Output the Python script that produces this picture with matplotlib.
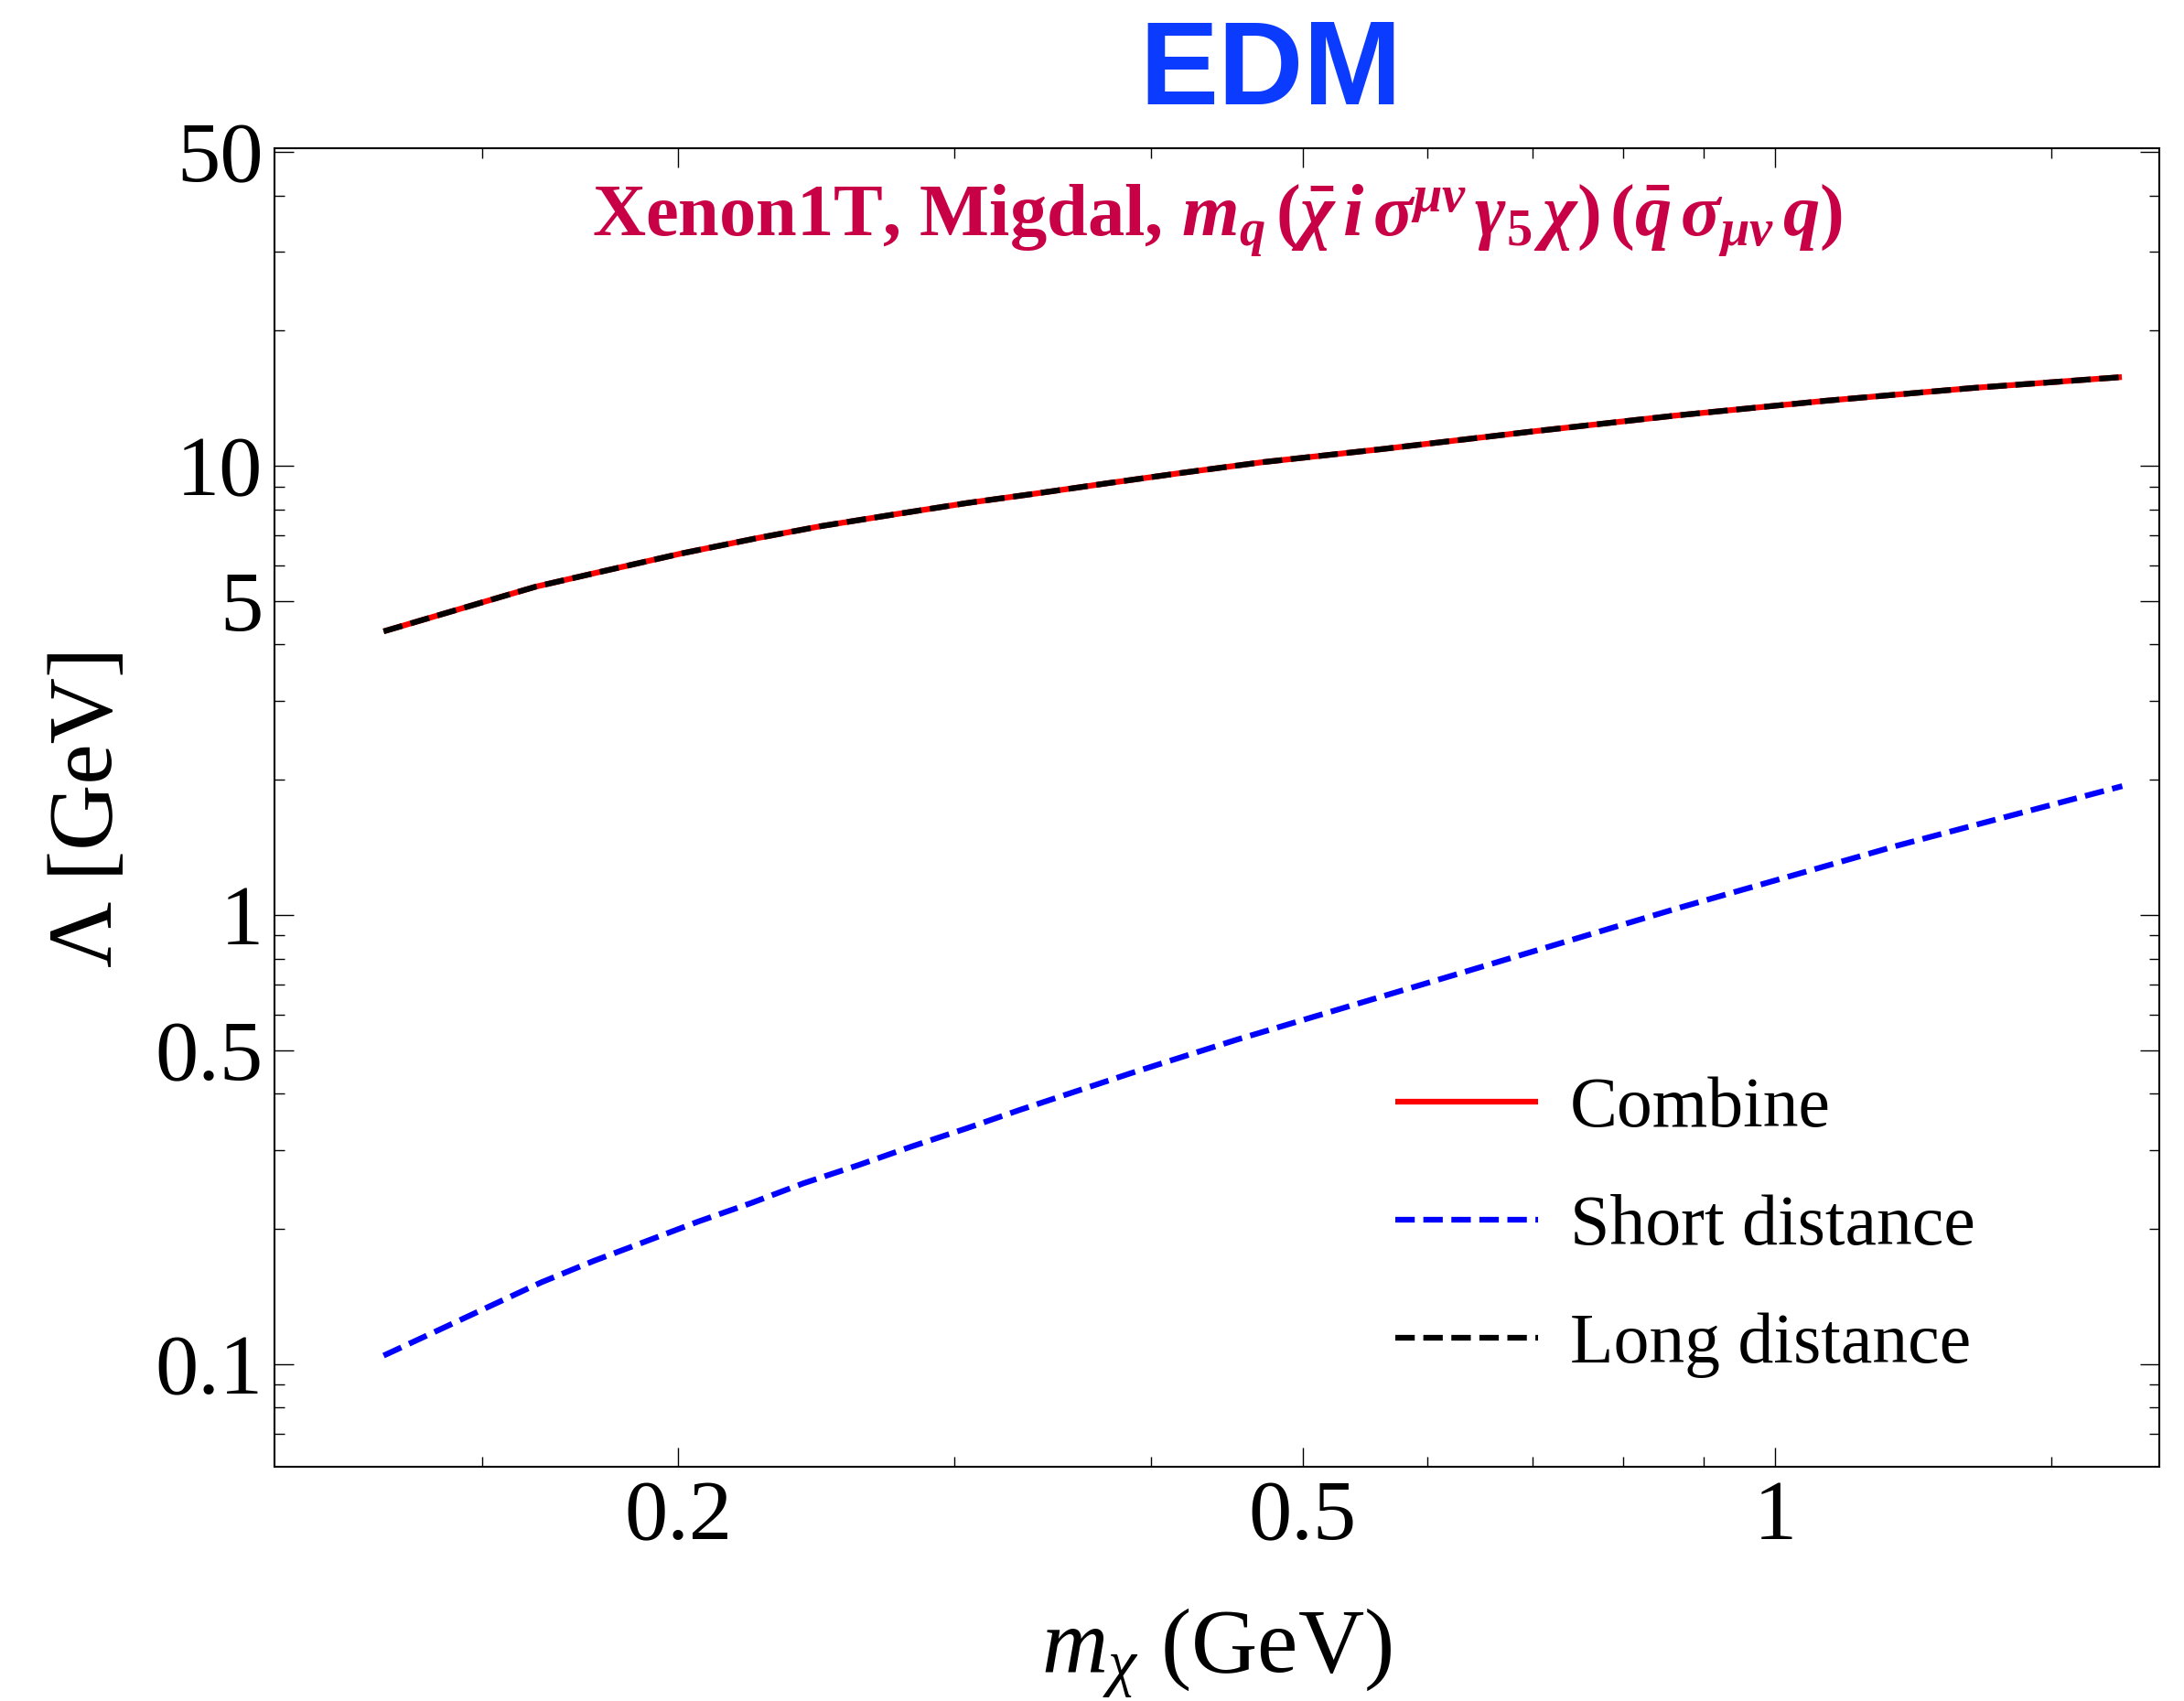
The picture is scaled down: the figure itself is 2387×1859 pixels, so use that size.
import numpy as np
import matplotlib
matplotlib.use("Agg")
import matplotlib.pyplot as plt
from matplotlib.ticker import FixedLocator, FixedFormatter, NullFormatter

plt.rcParams['font.family'] = ['Liberation Serif', 'DejaVu Serif']
plt.rcParams['mathtext.fontset'] = 'custom'
plt.rcParams['mathtext.rm'] = 'Liberation Serif:bold'
plt.rcParams['mathtext.it'] = 'Liberation Serif:italic'
plt.rcParams['mathtext.bf'] = 'Liberation Serif:bold:italic'

# data (m_chi in GeV, Lambda in GeV)
m_long = [0.1298, 0.1463, 0.1622, 0.1781, 0.2009, 0.2244, 0.2466, 0.2756, 0.3053,
          0.3384, 0.3750, 0.4191, 0.4716, 0.5623, 0.698, 0.866, 1.075, 1.335, 1.663]
lam_long = [4.28, 4.84, 5.38, 5.80, 6.38, 6.90, 7.34, 7.81, 8.26,
            8.68, 9.14, 9.65, 10.19, 10.9, 11.91, 12.95, 13.95, 14.9, 15.76]
lam_combine = list(lam_long)

m_short = [0.1298, 0.1402, 0.1514, 0.1635, 0.1766, 0.1908, 0.2060, 0.2225, 0.2403,
           0.2607, 0.2815, 0.3053, 0.3299, 0.3577, 0.3880, 0.4192, 0.4546, 0.6263,
           0.8664, 1.198, 1.664]
lam_short = [0.1045, 0.1184, 0.1342, 0.1520, 0.1697, 0.1878, 0.2078, 0.2283, 0.2527,
             0.2777, 0.3050, 0.3350, 0.3679, 0.4040, 0.4437, 0.4835, 0.5287, 0.7376,
             1.035, 1.429, 1.936]

x_major = [0.2, 0.5, 1]
x_major_labels = ["0.2", "0.5", "1"]
x_minor = [0.15, 0.3, 0.4, 0.6, 0.7, 0.8, 0.9, 1.5]
y_major = [0.1, 0.5, 1, 5, 10, 50]
y_major_labels = ["0.1", "0.5", "1", "5", "10", "50"]
y_minor = [0.07, 0.08, 0.09, 0.2, 0.3, 0.4, 0.6, 0.7, 0.8, 0.9,
           2, 3, 4, 6, 7, 8, 9, 20, 30, 40]

fig = plt.figure(figsize=(23.87, 18.59), dpi=100)
ax = fig.add_axes([0.1257, 0.1377, 0.8630, 0.7753])

lw = 4.5
dash = (3.4, 1.5)
ax.plot(m_long, lam_combine, color='#ff0000', lw=lw, solid_capstyle='butt', label='Combine')
ax.plot(m_short, lam_short, color='#0000ff', lw=lw, dashes=dash, dash_capstyle='butt',
        label='Short distance')
ax.plot(m_long, lam_long, color='black', lw=lw, dashes=dash, dash_capstyle='butt',
        label='Long distance')

ax.set_xscale('log')
ax.set_yscale('log')
ax.set_xlim(0.1106, 1.757)
ax.set_ylim(0.0591, 51.0)

ax.xaxis.set_major_locator(FixedLocator(x_major))
ax.xaxis.set_major_formatter(FixedFormatter(x_major_labels))
ax.xaxis.set_minor_locator(FixedLocator(x_minor))
ax.xaxis.set_minor_formatter(NullFormatter())
ax.yaxis.set_major_locator(FixedLocator(y_major))
ax.yaxis.set_major_formatter(FixedFormatter(y_major_labels))
ax.yaxis.set_minor_locator(FixedLocator(y_minor))
ax.yaxis.set_minor_formatter(NullFormatter())

ax.tick_params(which='both', direction='in', top=True, right=True, width=1.0)
ax.tick_params(which='major', length=15, labelsize=68)
ax.tick_params(which='minor', length=8)
ax.tick_params(axis='x', which='major', pad=10)
ax.tick_params(axis='y', which='major', pad=9)
for s in ax.spines.values():
    s.set_linewidth(1.5)

ax.set_xlabel(r'$m_\chi$ (GeV)', fontsize=72, labelpad=39)
ax.set_ylabel('Λ [GeV]', fontsize=72, labelpad=19)

note = (r'Xenon1T, Migdal, $\mathbf{m_q}\,(\bar{\mathbf{\chi}}\,\mathbf{i}\,\mathbf{\sigma}^{\mathbf{\mu\nu}}'
        r'\,\mathbf{\gamma}_5\,\mathbf{\chi})\,(\bar{\mathbf{q}}\,\mathbf{\sigma}_{\mathbf{\mu\nu}}\,\mathbf{q})$')
ax.text(0.5, 0.945, note, transform=ax.transAxes, ha='center', va='center', fontsize=58,
        fontweight='bold', color='#c80046')

fig.text(0.582, 0.9387, 'EDM', family='Liberation Sans', fontweight='bold',
         fontsize=93, color='#0b3bff', ha='center', va='baseline')

ax.legend(loc='upper left', bbox_to_anchor=(0.5947, 0.296), frameon=False,
          fontsize=56, handlelength=2.0, handletextpad=0.45, labelspacing=0.74,
          borderpad=0, borderaxespad=0)

fig.savefig('out.png', dpi=100)
